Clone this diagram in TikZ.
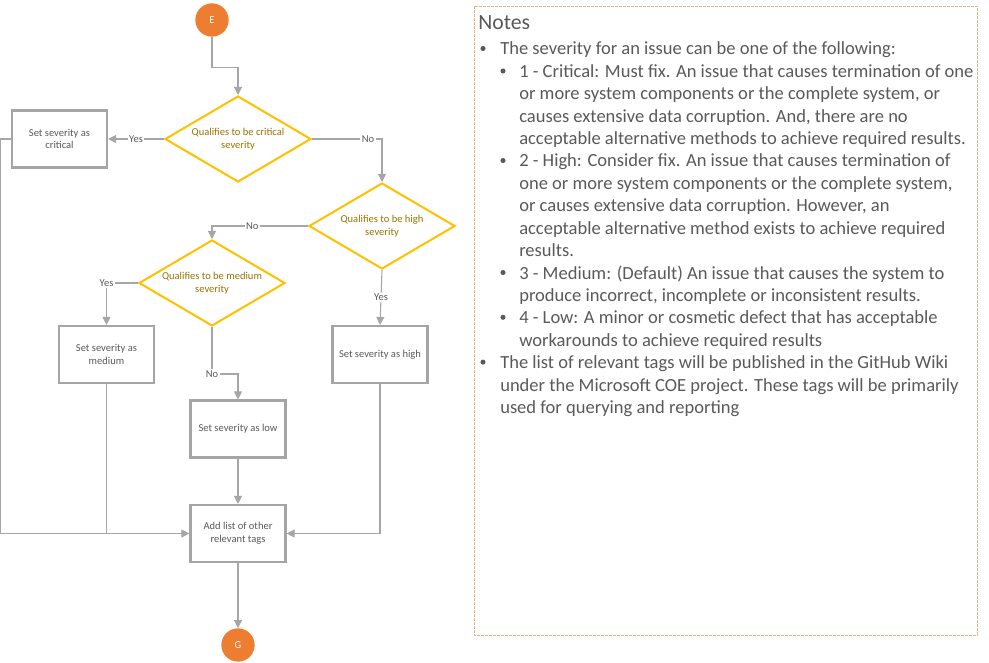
\documentclass[tikz,border=0pt]{standalone}
\usepackage{fontspec}
\setmainfont{Carlito}
\usetikzlibrary{shapes.geometric,arrows.meta}
\definecolor{textgray}{HTML}{595959}
\definecolor{linegray}{HTML}{A6A6A6}
\definecolor{boxgray}{HTML}{A5A5A5}
\definecolor{gold}{HTML}{FFC000}
\definecolor{goldtext}{RGB}{150,115,0}
\definecolor{startorange}{HTML}{ED7D31}
\definecolor{noteborder}{HTML}{F4B183}
\begin{document}
\begin{tikzpicture}
[x=0.75pt, y=-0.75pt,
chartfont/.style={font=\fontsize{7.9}{9.5}\selectfont},
terminal/.style={circle, fill=startorange, draw=none, text=white, minimum size=25pt, inner sep=0pt, chartfont},
process/.style={rectangle, draw=boxgray, line width=1.6pt, text=textgray, minimum width=71.25pt, minimum height=42.75pt, align=center, chartfont},
decision/.style={diamond, aspect=1.7, draw=gold, line width=1.5pt, text=goldtext, minimum width=109.5pt, minimum height=64.5pt, inner sep=0pt, align=center, chartfont},
conn/.style={draw=linegray, line width=0.8pt, -{Triangle[length=6pt, width=6pt]}},
link/.style={draw=linegray, line width=0.8pt},
lbl/.style={fill=white, text=textgray, inner sep=1pt, chartfont},
notefont/.style={font=\fontsize{13.9}{16.8}\selectfont},
notetext/.style={anchor=base west, align=left, inner sep=0pt, text=textgray, notefont},
dot/.style={circle, fill=textgray, inner sep=0pt, minimum size=3.8pt}]

\useasboundingbox (0,0) rectangle (989,663);

% flowchart
\node[terminal] (E) at (212,20) {E};
\node[decision] (crit) at (238,139) {Qualifies to be critical\\severity};
\node[process] (setcrit) at (59.5,139) {Set severity as\\critical};
\node[decision] (high) at (382,226) {Qualifies to be high\\severity};
\node[decision] (med) at (212,283) {Qualifies to be medium\\severity};
\node[process] (setmed) at (106.5,354.5) {Set severity as\\medium};
\node[process] (sethigh) at (380,354.5) {Set severity as high};
\node[process] (setlow) at (238,429) {Set severity as low};
\node[process] (addtags) at (238,533.5) {Add list of other\\relevant tags};
\node[terminal] (G) at (238,645) {G};

\draw[conn] (E.south) -- ++(0,31) -| (crit.north);
\draw[conn] (crit.west) -- node[lbl]{Yes} (setcrit.east);
\draw[conn] (crit.east) -| node[lbl, pos=0.4]{No} (high.north);
\draw[conn] (high.west) -| node[lbl, pos=0.29]{No} (med.north);
\draw[conn] (med.west) -| node[lbl, pos=0.5]{Yes} (setmed.north);
\draw[conn] (high.south) -- node[lbl, pos=0.5]{Yes} (sethigh.north);
\draw[conn] (med.south) -- ++(0,47) node[lbl]{No} -| (setlow.north);
\draw[conn] (setlow.south) -- (addtags.north);
\draw[conn] (setcrit.west) -- ++(-10,0) |- (addtags.west);
\draw[link] (setmed.south) -- (setmed.south |- addtags.west);
\draw[conn] (sethigh.south) |- (addtags.east);
\draw[conn] (addtags.south) -- (G.north);

% notes panel (base = baseline of last line)
\draw[draw=noteborder, line width=0.5pt, dash pattern=on 2pt off 1pt] (474,6) rectangle (977,635);
\node[anchor=base west, inner sep=0pt, text=textgray, font=\fontsize{16.3}{19}\selectfont] (notes) at (478,30) {Notes};

\node[dot] (b1) at (483,48.5) {};
\node[notetext] (sev) at (500,55) {The severity for an issue can be one of the following:};
\node[dot] (b2) at (503,71) {};
\node[notetext] (critical) at (519,144.6) {1 - Critical: Must fix. An issue that causes termination of one\\or more system components or the complete system, or\\causes extensive data corruption. And, there are no\\acceptable alternative methods to achieve required results.};
\node[dot] (b3) at (503,160.5) {};
\node[notetext] (highsev) at (519,256.6) {2 - High: Consider fix. An issue that causes termination of\\one or more system components or the complete system,\\or causes extensive data corruption. However, an\\acceptable alternative method exists to achieve required\\results.};
\node[dot] (b4) at (503,272.5) {};
\node[notetext] (medium) at (519,301.4) {3 - Medium: (Default) An issue that causes the system to\\produce incorrect, incomplete or inconsistent results.};
\node[dot] (b5) at (503,317.3) {};
\node[notetext] (low) at (519,346.2) {4 - Low: A minor or cosmetic defect that has acceptable\\workarounds to achieve required results};
\node[dot] (b6) at (483,362.1) {};
\node[notetext] (tags) at (500,413.4) {The list of relevant tags will be published in the GitHub Wiki\\under the Microsoft COE project. These tags will be primarily\\used for querying and reporting};
\end{tikzpicture}
\end{document}
